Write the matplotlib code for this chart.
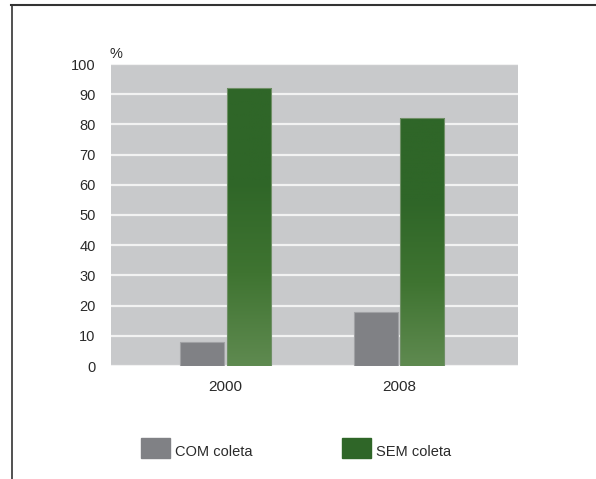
import matplotlib
matplotlib.use('Agg')
import matplotlib.pyplot as plt
import numpy as np
from matplotlib.colors import LinearSegmentedColormap
from matplotlib.patches import Rectangle
from matplotlib.lines import Line2D

plt.rcParams['font.family'] = ['Liberation Sans', 'DejaVu Sans']

# dados (%)
anos = ['2000', '2008']
com_coleta = [8, 18]
sem_coleta = [92, 82]
yticks = [0, 10, 20, 30, 40, 50, 60, 70, 80, 90, 100]

cinza = '#808185'
verde = '#2f6628'
fundo = '#c8c9cb'
texto = '#2a2a2a'

fig = plt.figure(figsize=(5.96, 4.79), dpi=100)
ax = fig.add_axes([111/596, 1 - 366/479, 407/596, 302/479])
ax.set_facecolor(fundo)

x = np.arange(len(anos))
w = 0.254
off = 0.135
b1 = ax.bar(x - off, com_coleta, w, color=cinza, edgecolor='#a0a1a4', linewidth=0.8, zorder=3)
b2 = ax.bar(x + off, sem_coleta, w, color='none', edgecolor='#6f8f66', linewidth=0.8, zorder=4)

# degrade nas barras verdes (escuro em cima, claro embaixo)
cmap = LinearSegmentedColormap.from_list('g', ['#5f8a50', '#3f7431', verde, verde])
grad = np.linspace(0, 1, 256).reshape(-1, 1)
for p in b2:
    im = ax.imshow(grad, cmap=cmap, origin='lower', aspect='auto', zorder=3,
                   extent=[p.get_x(), p.get_x() + p.get_width(), 0, p.get_height()])
    im.set_clip_path(p)

ax.set_xlim(-0.66, 1.686)
ax.set_ylim(0, 100)
ax.set_yticks(yticks)
ax.set_xticks(x)
ax.set_xticklabels(anos)
ax.set_axisbelow(True)
ax.yaxis.grid(True, color='#f2f2f2', linewidth=1.6)
for s in ax.spines.values():
    s.set_visible(False)
ax.tick_params(axis='y', length=0, pad=11, labelsize=10.5, labelcolor=texto)
ax.tick_params(axis='x', length=0, pad=10, labelsize=11, labelcolor=texto)

fig.text(109/596, 1 - 54/479, '%', fontsize=10.5, color=texto, va='center', ha='left')

# legenda
for xs, lab, cor in [(141, 'COM coleta', cinza), (342, 'SEM coleta', verde)]:
    fig.patches.append(Rectangle((xs/596, 1 - 458/479), 29/596, 20/479,
                                 transform=fig.transFigure, color=cor, figure=fig))
    fig.text((xs + 34)/596, 1 - 452/479, lab, fontsize=10.5, color=texto,
             va='center', ha='left')

# moldura
fig.add_artist(Line2D([11/596, 1], [1 - 5/479, 1 - 5/479], color='#333333', lw=1.5,
                      transform=fig.transFigure))
fig.add_artist(Line2D([12/596, 12/596], [0, 1 - 5/479], color='#333333', lw=1.2,
                      transform=fig.transFigure))

fig.savefig('out.png', dpi=100)
